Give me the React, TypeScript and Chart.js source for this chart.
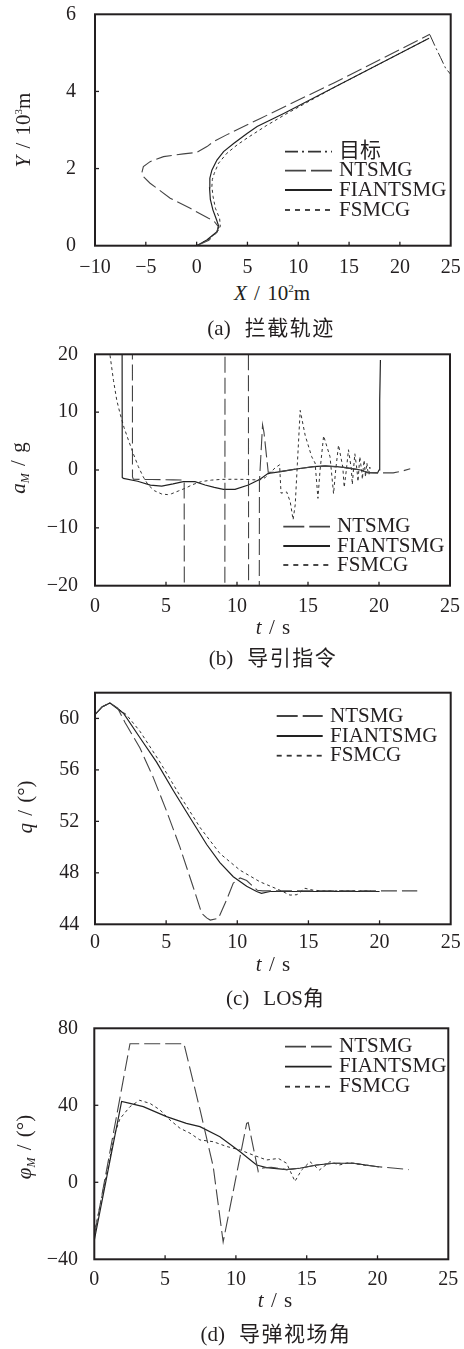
import React, { useEffect, useRef } from "react";
import { Chart, registerables } from "chart.js";

Chart.register(...registerables);

// ---------------- (a) 拦截轨迹 : X / 10^2 m , Y / 10^3 m ----------------
const aTargetX = [22.95, 23.5, 24.0, 24.5, 25.2];
const aTargetY = [5.47, 5.15, 4.88, 4.6, 4.38];
const aNtsmgX = [0, 1.2, 2.0, 2.12, 1.7, 1.17, -0.63, -2.6, -4.58, -5.24, -5.4, -5.24, -4.58, -3.26, -1.29, 0.0, 1.02, 1.67, 2.99, 6.27, 13.5, 22.95];
const aNtsmgY = [0, 0.14, 0.35, 0.5, 0.64, 0.71, 0.97, 1.23, 1.62, 1.79, 1.88, 2.05, 2.18, 2.31, 2.38, 2.42, 2.57, 2.7, 2.88, 3.3, 4.22, 5.48];
const aFiantX = [0, 1.0, 2.0, 2.18, 1.95, 1.6, 1.35, 1.27, 1.3, 1.5, 2.0, 2.65, 3.64, 4.96, 5.95, 8.57, 13.5, 22.87];
const aFiantY = [0, 0.15, 0.36, 0.5, 0.68, 0.93, 1.2, 1.5, 1.75, 1.96, 2.22, 2.44, 2.65, 2.91, 3.09, 3.43, 4.1, 5.38];
const aFsmcgX = [0, 1.2, 2.1, 2.33, 2.26, 1.85, 1.62, 1.5, 1.55, 1.74, 2.16, 2.99, 3.97, 4.96, 6.9, 8.9, 13.5, 22.87];
const aFsmcgY = [0, 0.17, 0.38, 0.5, 0.71, 0.97, 1.27, 1.53, 1.72, 1.88, 2.14, 2.4, 2.61, 2.79, 3.12, 3.43, 4.1, 5.38];
const aXTicks = [-10, -5, 0, 5, 10, 15, 20, 25];
const aYTicks = [0, 2, 4, 6];

// ---------------- (b) 导引指令 : a_M / g ----------------
const bNtsmgT = [2.63, 2.64, 2.7, 4.0, 5.5, 6.28, 6.3, 9.14, 9.16, 10.8, 10.82, 11.56, 11.58, 11.8, 11.9, 12.2, 12.6, 13.2, 14.0, 15.4, 16.2, 17.5, 18.7, 19.2, 19.9, 20.5, 21.0, 21.6, 22.2];
const bNtsmgA = [40, -1.2, -1.6, -1.65, -1.7, -1.75, -40, -40, 40, 40, -40, -40, -2, 7.8, 6.5, -0.4, -0.4, -0.2, 0.1, 0.58, 0.7, 0.46, 0, -0.45, -0.5, -0.5, -0.5, -0.2, 0.2];
const bFiantT = [1.9, 1.92, 2.0, 3.0, 3.9, 4.7, 5.5, 6.22, 7.04, 7.75, 8.4, 9.04, 9.86, 10.8, 11.62, 12.2, 12.6, 13.2, 14.0, 14.7, 15.4, 16.2, 17.0, 17.5, 18.2, 18.7, 19.2, 19.9, 20.0, 20.05, 20.1];
const bFiantA = [40, -1.3, -1.45, -1.95, -2.6, -2.77, -2.4, -2.0, -2.0, -2.6, -3.0, -3.34, -3.34, -2.6, -1.61, -0.58, -0.45, -0.25, 0.1, 0.35, 0.58, 0.7, 0.6, 0.46, 0.2, 0, -0.45, -0.5, 0.0, 12, 19];
const bFsmcgT = [0.9, 1.05, 1.3, 1.53, 1.76, 2.05, 2.35, 2.7, 3.05, 3.4, 3.75, 4.2, 4.7, 5.1, 5.4, 5.9, 6.34, 6.9, 7.5, 8.2, 8.9, 9.7, 10.5, 11.1, 11.6, 12.0, 12.4, 12.7, 13.0, 13.1, 13.5, 13.75, 13.95, 14.1, 14.25, 14.45, 14.8, 15.26, 15.5, 15.7, 15.85, 16.1, 16.55, 16.8, 16.95, 17.15, 17.45, 17.55, 17.7, 17.85, 18.05, 18.12, 18.2, 18.3, 18.45, 18.52, 18.58, 18.65, 18.78, 18.83, 18.88, 18.95, 19.05, 19.1, 19.15, 19.2, 19.3, 19.35, 19.4];
const bFsmcgA = [25, 20, 15.5, 12.1, 9.8, 7.3, 5.2, 2.8, 0.6, -1.2, -2.6, -3.6, -4.15, -4.25, -4.1, -3.6, -3.17, -2.5, -2.0, -1.75, -1.62, -1.6, -1.62, -1.68, -1.73, -1.3, -0.3, 0.4, 0.9, -4.0, -3.8, -5.5, -8.6, -6, 1, 10.3, 6.0, 2.3, 1.2, -4.9, 0, 5.9, 2.3, -4.1, 0, 4.3, 0.5, -3.0, 0, 3.5, 0.2, -2.5, 0, 2.8, 0, -2.0, 0, 2.3, -0.2, -1.6, 0, 1.7, -1.2, 0.3, 1.2, 0, -0.8, 0.5, -0.3];
const tTicks = [0, 5, 10, 15, 20, 25];
const bYTicks = [-20, -10, 0, 10, 20];

// ---------------- (c) LOS角 : q / (°) ----------------
const cNtsmgT = [0, 0.5, 1.05, 1.6, 2.1, 3.16, 4.1, 5.03, 5.97, 6.9, 7.5, 7.85, 8.1, 8.67, 9.25, 9.72, 10.2, 10.66, 11.4, 11.8, 13, 15, 18, 22.65];
const cNtsmgQ = [60.3, 60.9, 61.2, 60.8, 59.7, 57.7, 55.4, 52.8, 50.0, 46.9, 44.85, 44.5, 44.33, 44.46, 45.9, 47.2, 47.6, 47.4, 46.65, 46.6, 46.6, 46.6, 46.6, 46.6];
const cFiantT = [0, 0.5, 1.05, 2.0, 3.16, 4.33, 5.5, 6.67, 7.85, 8.78, 9.72, 10.66, 11.36, 11.7, 12.3, 14, 17, 20];
const cFiantQ = [60.3, 60.9, 61.2, 60.4, 58.5, 56.6, 54.4, 52.3, 50.2, 48.8, 47.7, 46.95, 46.55, 46.4, 46.55, 46.55, 46.55, 46.55];
const cFsmcgT = [0, 0.5, 1.05, 2.2, 3.16, 4.57, 5.97, 7.4, 8.78, 10.2, 11.6, 13.0, 13.7, 14.2, 14.75, 15.34, 16, 19.4];
const cFsmcgQ = [60.3, 60.9, 61.2, 60.3, 59.0, 56.6, 54.0, 51.5, 49.5, 48.2, 47.3, 46.65, 46.27, 46.3, 46.8, 46.65, 46.6, 46.6];
const cYTicks = [44, 48, 52, 56, 60];

// ---------------- (d) 导弹视场角 : φ_M / (°) ----------------
const dNtsmgT = [0, 2.52, 6.33, 7.47, 8.4, 9.1, 10.76, 10.87, 11.58, 11.93, 12.5, 13.58, 14.5, 15.7, 16.9, 18.3, 19.9, 22.2];
const dNtsmgP = [-28, 72, 72, 37.6, 8.1, -31, 30.6, 31, 5.5, 7.5, 7.8, 6.6, 7.3, 9.0, 9.9, 9.9, 8.2, 6.6];
const dFiantT = [0, 1.93, 2.52, 3.46, 5.1, 6.5, 7.46, 8.87, 10.3, 11.46, 12.17, 13.58, 14.5, 15.7, 16.9, 18.3, 19.9, 20.1];
const dFiantP = [-30, 42, 41, 39.3, 34.1, 30.6, 28.9, 23.7, 15.9, 9.0, 7.6, 6.6, 7.3, 9.0, 9.9, 9.9, 8.2, 8.0];
const dFsmcgT = [0, 1.46, 1.81, 2.52, 3.2, 3.93, 4.64, 5.34, 6.05, 6.76, 7.46, 8.4, 9.35, 10.3, 11.2, 12.17, 13.0, 13.58, 14.17, 14.64, 15.23, 15.9, 16.64, 17.3, 18, 19.4];
const dFsmcgP = [-26.5, 25.5, 33, 39.3, 42.6, 41.0, 37.6, 32.4, 28.1, 25.5, 22.0, 21.1, 18.6, 16.8, 14.2, 11.6, 12.4, 9.9, 0.5, 6.4, 10.7, 6.4, 10.7, 9.0, 10.2, 8.5];
const dYTicks = [-40, 0, 40, 80];

// ---------------- names & styles ----------------
const NAME_TARGET = "目标";
const NAME_NTSMG = "NTSMG";
const NAME_FIANT = "FIANTSMG";
const NAME_FSMCG = "FSMCG";

const INK = "#231f20";
const FONT = '"Liberation Serif", "Noto Sans CJK SC", serif';

type LineStyle = { color: string; dash: number[]; legendDash: number[]; width: number };
const ST_TARGET: LineStyle = { color: "#333", dash: [12, 3, 2, 3], legendDash: [13, 4, 2, 4], width: 1 };
const ST_NTSMG: LineStyle = { color: "#444", dash: [16, 5], legendDash: [21, 5], width: 1.1 };
const ST_FIANT: LineStyle = { color: "#222", dash: [], legendDash: [], width: 1.2 };
const ST_FSMCG: LineStyle = { color: "#333", dash: [3, 3], legendDash: [5, 5], width: 1 };

type Series = { name: string; xs: number[]; ys: number[]; style: LineStyle };
type Panel = {
  canvasTop: number;
  canvasHeight: number;
  area: { left: number; top: number; right: number; bottom: number };
  xMin: number; xMax: number; yMin: number; yMax: number;
  xTicks: number[]; yTicks: number[];
  xPad: number; yPad: number;
  series: Series[];
  legend: { x0: number; x1: number; tx: number; rows: number[] };
};

const W = 464;

const PANELS: Panel[] = [
  {
    canvasTop: 0, canvasHeight: 280,
    area: { left: 95, top: 14.3, right: 450.7, bottom: 245.7 },
    xMin: -10, xMax: 25, yMin: 0, yMax: 6,
    xTicks: aXTicks, yTicks: aYTicks, xPad: 2.5, yPad: 11,
    series: [
      { name: NAME_TARGET, xs: aTargetX, ys: aTargetY, style: ST_TARGET },
      { name: NAME_NTSMG, xs: aNtsmgX, ys: aNtsmgY, style: ST_NTSMG },
      { name: NAME_FIANT, xs: aFiantX, ys: aFiantY, style: ST_FIANT },
      { name: NAME_FSMCG, xs: aFsmcgX, ys: aFsmcgY, style: ST_FSMCG },
    ],
    legend: { x0: 285, x1: 332, tx: 339, rows: [151.7, 170.7, 190, 210] },
  },
  {
    canvasTop: 338, canvasHeight: 282,
    area: { left: 95, top: 354.3, right: 450, bottom: 585.7 },
    xMin: 0, xMax: 25, yMin: -20, yMax: 20,
    xTicks: tTicks, yTicks: bYTicks, xPad: 1, yPad: 9,
    series: [
      { name: NAME_NTSMG, xs: bNtsmgT, ys: bNtsmgA, style: ST_NTSMG },
      { name: NAME_FIANT, xs: bFiantT, ys: bFiantA, style: ST_FIANT },
      { name: NAME_FSMCG, xs: bFsmcgT, ys: bFsmcgA, style: ST_FSMCG },
    ],
    legend: { x0: 283.3, x1: 330, tx: 337, rows: [526.7, 546, 565] },
  },
  {
    canvasTop: 676, canvasHeight: 282,
    area: { left: 95, top: 692.7, right: 450.7, bottom: 924.3 },
    xMin: 0, xMax: 25, yMin: 44, yMax: 62,
    xTicks: tTicks, yTicks: cYTicks, xPad: -1.5, yPad: 7.7,
    series: [
      { name: NAME_NTSMG, xs: cNtsmgT, ys: cNtsmgQ, style: ST_NTSMG },
      { name: NAME_FIANT, xs: cFiantT, ys: cFiantQ, style: ST_FIANT },
      { name: NAME_FSMCG, xs: cFsmcgT, ys: cFsmcgQ, style: ST_FSMCG },
    ],
    legend: { x0: 276.7, x1: 322.7, tx: 330, rows: [716, 736, 755.7] },
  },
  {
    canvasTop: 1012, canvasHeight: 282,
    area: { left: 94.3, top: 1028.3, right: 448.3, bottom: 1259.3 },
    xMin: 0, xMax: 25, yMin: -40, yMax: 80,
    xTicks: tTicks, yTicks: dYTicks, xPad: 0.5, yPad: 8.3,
    series: [
      { name: NAME_NTSMG, xs: dNtsmgT, ys: dNtsmgP, style: ST_NTSMG },
      { name: NAME_FIANT, xs: dFiantT, ys: dFiantP, style: ST_FIANT },
      { name: NAME_FSMCG, xs: dFsmcgT, ys: dFsmcgP, style: ST_FSMCG },
    ],
    legend: { x0: 285, x1: 331.7, tx: 339, rows: [1046.7, 1066.7, 1086.7] },
  },
];

const fmt = (v: number) => (v < 0 ? "\u2212" + Math.abs(v) : String(v));

function PanelChart({ p }: { p: Panel }) {
  const ref = useRef<HTMLCanvasElement>(null);
  useEffect(() => {
    const canvas = ref.current;
    if (!canvas) return;
    const a = p.area;
    const framePlugin = {
      id: "frameTicksLegend",
      afterDraw(chart: any) {
        const ctx = chart.ctx;
        const ca = chart.chartArea;
        ctx.save();
        ctx.strokeStyle = INK;
        ctx.lineWidth = 1.3;
        ctx.setLineDash([]);
        const xs = chart.scales.x;
        const ys = chart.scales.y;
        p.xTicks.forEach((v) => {
          if (v === p.xMin || v === p.xMax) return;
          const px = xs.getPixelForValue(v);
          ctx.beginPath();
          ctx.moveTo(px, ca.bottom);
          ctx.lineTo(px, ca.bottom - 4);
          ctx.stroke();
        });
        p.yTicks.forEach((v) => {
          if (v === p.yMin || v === p.yMax) return;
          const py = ys.getPixelForValue(v);
          ctx.beginPath();
          ctx.moveTo(ca.left, py);
          ctx.lineTo(ca.left + 4, py);
          ctx.stroke();
        });
        ctx.lineWidth = 2;
        ctx.strokeRect(ca.left, ca.top, ca.right - ca.left, ca.bottom - ca.top);
        const lg = p.legend;
        p.series.forEach((s, i) => {
          const y = lg.rows[i] - p.canvasTop;
          ctx.strokeStyle = s.style.color;
          ctx.lineWidth = 1.8;
          ctx.setLineDash(s.style.legendDash);
          ctx.beginPath();
          ctx.moveTo(lg.x0, y);
          ctx.lineTo(lg.x1, y);
          ctx.stroke();
          ctx.setLineDash([]);
          ctx.fillStyle = INK;
          ctx.font = "21px " + FONT;
          ctx.textAlign = "left";
          ctx.textBaseline = "middle";
          ctx.fillText(s.name, lg.tx, y);
        });
        ctx.restore();
      },
    };
    const tickFont = { family: FONT, size: 20 };
    const chart = new Chart(canvas, {
      type: "scatter",
      data: {
        datasets: p.series.map((s) => ({
          label: s.name,
          data: s.xs.map((x, i) => ({ x, y: s.ys[i] })),
          showLine: true,
          pointRadius: 0,
          pointHoverRadius: 0,
          borderColor: s.style.color,
          backgroundColor: s.style.color,
          borderWidth: s.style.width,
          borderDash: s.style.dash,
          fill: false,
          tension: 0,
        })),
      },
      options: {
        responsive: false,
        animation: false,
        events: [],
        layout: {
          padding: { left: 0, top: a.top - p.canvasTop, right: W - a.right, bottom: 0 },
        },
        plugins: { legend: { display: false }, tooltip: { enabled: false } },
        scales: {
          x: {
            type: "linear",
            min: p.xMin,
            max: p.xMax,
            grid: { display: false },
            border: { display: false },
            ticks: {
              font: tickFont,
              color: INK,
              padding: p.xPad,
              autoSkip: false,
              maxRotation: 0,
              callback: (v: any) => fmt(Number(v)),
            },
            afterBuildTicks: (s: any) => {
              s.ticks = p.xTicks.map((v) => ({ value: v }));
            },
            afterFit: (s: any) => {
              s.height = p.canvasTop + p.canvasHeight - a.bottom;
              s.paddingLeft = 0;
              s.paddingRight = 0;
              s.paddingTop = 0;
              s.paddingBottom = 0;
            },
          },
          y: {
            type: "linear",
            min: p.yMin,
            max: p.yMax,
            grid: { display: false },
            border: { display: false },
            ticks: {
              font: tickFont,
              color: INK,
              padding: p.yPad,
              autoSkip: false,
              callback: (v: any) => fmt(Number(v)),
            },
            afterBuildTicks: (s: any) => {
              s.ticks = p.yTicks.map((v) => ({ value: v }));
            },
            afterFit: (s: any) => {
              s.width = a.left;
              s.paddingLeft = 0;
              s.paddingRight = 0;
              s.paddingTop = 0;
              s.paddingBottom = 0;
            },
          },
        },
      },
      plugins: [framePlugin],
    } as any);
    return () => chart.destroy();
  }, [p]);
  return (
    <canvas
      ref={ref}
      width={W}
      height={p.canvasHeight}
      style={{ position: "absolute", left: 0, top: p.canvasTop, width: W, height: p.canvasHeight }}
    />
  );
}

function TextAt({ x, y, size = 21, rotate = false, children, style }: any) {
  return (
    <div
      style={{
        position: "absolute",
        left: x,
        top: y,
        transform: "translate(-50%, -50%)" + (rotate ? " rotate(-90deg)" : ""),
        fontSize: size,
        lineHeight: 1,
        whiteSpace: "nowrap",
        wordSpacing: 2,
        ...style,
      }}
    >
      {children}
    </div>
  );
}

const sup = (t: string) => (
  <span style={{ fontSize: 11, position: "relative", top: -8 }}>{t}</span>
);
const subI = (t: string) => (
  <i style={{ fontSize: 12, position: "relative", top: 4 }}>{t}</i>
);
const cap = (tag: string, text: string) => (
  <>
    {tag}
    <span style={{ marginLeft: 14, letterSpacing: 1.5 }}>{text}</span>
  </>
);

export default function App() {
  return (
    <div
      style={{
        position: "absolute",
        left: 0,
        top: 0,
        width: W,
        height: 1349,
        background: "#fff",
        color: INK,
        fontFamily: FONT,
        overflow: "hidden",
      }}
    >
      {PANELS.map((p, i) => (
        <PanelChart key={i} p={p} />
      ))}

      {/* (a) */}
      <TextAt x={22.5} y={130} rotate>
        <i>Y</i> / 10{sup("3")}m
      </TextAt>
      <TextAt x={272} y={293}>
        <i>X</i> / 10{sup("2")}m
      </TextAt>
      <TextAt x={271} y={328}>{cap("(a)", "拦截轨迹")}</TextAt>

      {/* (b) */}
      <TextAt x={18} y={468} rotate>
        <i>a</i>
        {subI("M")} / g
      </TextAt>
      <TextAt x={273} y={627}>
        <i>t</i> / s
      </TextAt>
      <TextAt x={273} y={658}>{cap("(b)", "导引指令")}</TextAt>

      {/* (c) */}
      <TextAt x={25} y={807} rotate>
        <i>q</i> / (°)
      </TextAt>
      <TextAt x={273} y={964}>
        <i>t</i> / s
      </TextAt>
      <TextAt x={275} y={998}>
        (c)<span style={{ marginLeft: 14 }}>LOS角</span>
      </TextAt>

      {/* (d) */}
      <TextAt x={24} y={1147} rotate>
        <i>φ</i>
        {subI("M")} / (°)
      </TextAt>
      <TextAt x={275} y={1300}>
        <i>t</i> / s
      </TextAt>
      <TextAt x={276} y={1334}>{cap("(d)", "导弹视场角")}</TextAt>
    </div>
  );
}
